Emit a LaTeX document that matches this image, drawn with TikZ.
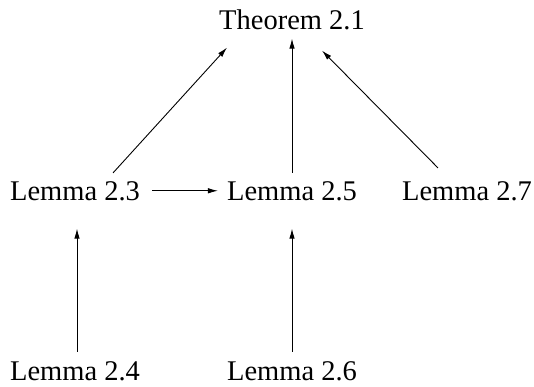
\documentclass[tikz,border=0pt]{standalone}
\usepackage{fontspec}
\setmainfont{Liberation Serif}
\usetikzlibrary{arrows.meta}

\begin{document}
\begin{tikzpicture}[
    x=1pt, y=-1pt,
    res/.style={inner sep=0pt, anchor=base, font=\fontsize{28.5}{34}\selectfont},
    arrow/.style={-{Latex[length=10pt, width=5.5pt]}, line width=0.9pt}
]
\useasboundingbox (0,0) rectangle (534,386);

% Results
\node (thm) [res] at (292,29) {Theorem 2.1};
\node (l23) [res] at (75,200) {Lemma 2.3};
\node (l25) [res] at (292,200) {Lemma 2.5};
\node (l27) [res] at (467,200) {Lemma 2.7};
\node (l24) [res] at (75,380) {Lemma 2.4};
\node (l26) [res] at (292,380) {Lemma 2.6};

% Dependencies
\draw [arrow] ([xshift=38pt, yshift=8pt]l23.north) -- ([xshift=-65pt, yshift=-18pt]thm.south);
\draw [arrow] ([yshift=8pt]l25.north) -- ([yshift=-9pt]thm.south);
\draw [arrow] ([xshift=-29pt, yshift=13pt]l27.north) -- ([xshift=30pt, yshift=-21pt]thm.south);
\draw [arrow] ([xshift=12pt]l23.east) -- ([xshift=-9pt]l25.west);
\draw [arrow] ([xshift=2pt, yshift=9pt]l24.north) -- ([xshift=2pt, yshift=-28pt]l23.south);
\draw [arrow] ([yshift=9pt]l26.north) -- ([yshift=-28pt]l25.south);

\end{tikzpicture}
\end{document}
